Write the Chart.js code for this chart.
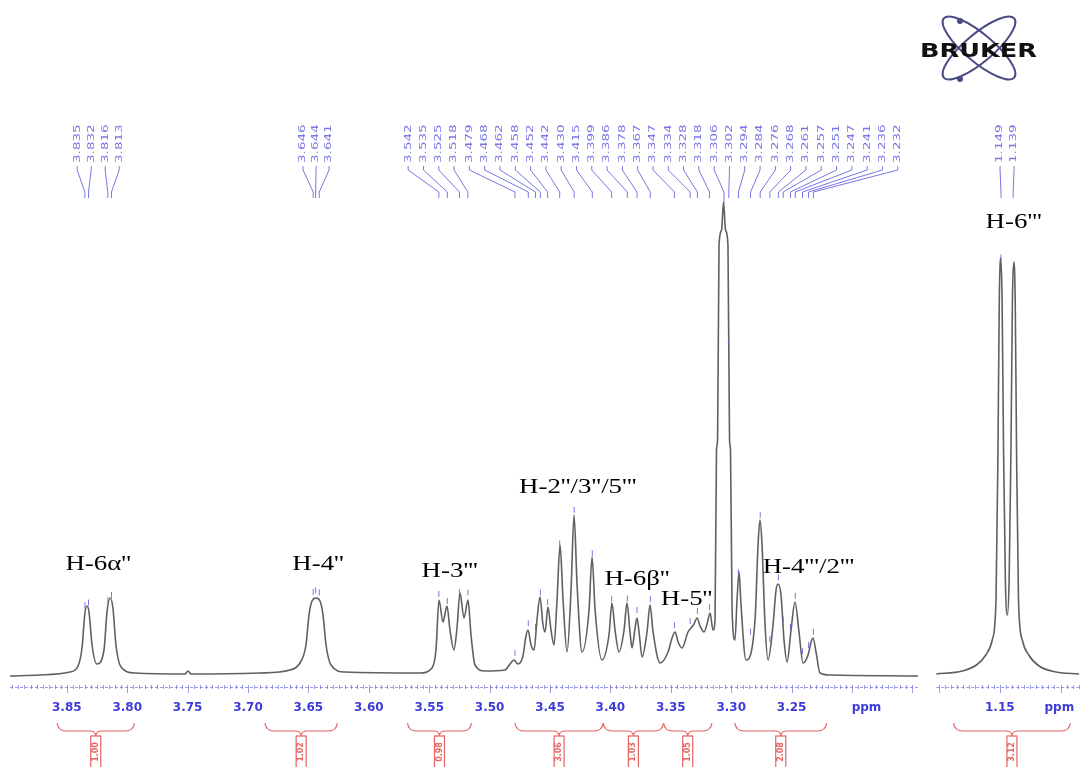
<!DOCTYPE html>
<html>
<head>
<meta charset="utf-8">
<script src="https://cdn.jsdelivr.net/npm/chart.js@4.4.0/dist/chart.umd.min.js"></script>
<style>
  body { margin: 0; background: #fff; }
  #wrap { position: relative; width: 1088px; height: 767px; overflow: hidden; background: #fff; }
  canvas { position: absolute; top: 0; }
  #left { left: 0; }
  #right { left: 925px; }
  #logo { position: absolute; left: 915px; top: 8px; }
</style>
</head>
<body>
<div id="wrap">
  <canvas id="left" width="925" height="767"></canvas>
  <canvas id="right" width="163" height="767"></canvas>
  <svg id="logo" width="130" height="85" viewBox="0 0 130 85">
    <g fill="none" stroke="#4b4b86" stroke-width="2">
      <ellipse cx="64" cy="40" rx="46" ry="14" transform="rotate(40 64 40)"/>
      <ellipse cx="64" cy="40" rx="46" ry="14" transform="rotate(-40 64 40)"/>
    </g>
    <circle cx="45" cy="13" r="3" fill="#4b4b86"/>
    <circle cx="45" cy="71" r="3" fill="#4b4b86"/>
    <text x="5" y="49" font-family="DejaVu Sans" font-weight="bold" font-size="19" fill="#111"
          textLength="117" lengthAdjust="spacingAndGlyphs">BRUKER</text>
  </svg>
</div>
<script>
// 1H trace, sugar region 3.90 - 3.14 ppm (ppm / relative intensity)
const leftPpm = [3.8970, 3.8722, 3.8474, 3.8407, 3.8374, 3.8349, 3.8333, 3.8316, 3.8291, 3.8250,
  3.8192, 3.8167, 3.8142, 3.8118, 3.8093, 3.8051, 3.7935, 3.7522, 3.7497, 3.7472,
  3.6901, 3.6652, 3.6570, 3.6520, 3.6495, 3.6470, 3.6437, 3.6404, 3.6379, 3.6354,
  3.6313, 3.6197, 3.5576, 3.5477, 3.5444, 3.5419, 3.5386, 3.5353, 3.5328, 3.5295,
  3.5270, 3.5245, 3.5212, 3.5179, 3.5154, 3.5121, 3.5038, 3.4873, 3.4831, 3.4798,
  3.4765, 3.4724, 3.4699, 3.4682, 3.4657, 3.4632, 3.4608, 3.4583, 3.4558, 3.4541,
  3.4517, 3.4492, 3.4467, 3.4442, 3.4417, 3.4392, 3.4359, 3.4326, 3.4301, 3.4276,
  3.4235, 3.4177, 3.4152, 3.4127, 3.4070, 3.4012, 3.3987, 3.3962, 3.3929, 3.3887,
  3.3863, 3.3838, 3.3821, 3.3796, 3.3780, 3.3763, 3.3738, 3.3697, 3.3672, 3.3647,
  3.3589, 3.3523, 3.3490, 3.3465, 3.3440, 3.3407, 3.3358, 3.3333, 3.3308, 3.3283,
  3.3258, 3.3225, 3.3200, 3.3175, 3.3151, 3.3134, 3.3122, 3.3113, 3.3101, 3.3080,
  3.3064, 3.3047, 3.3027, 3.3014, 3.3006, 3.2993, 3.2969, 3.2952, 3.2935, 3.2919,
  3.2878, 3.2803, 3.2778, 3.2762, 3.2745, 3.2720, 3.2695, 3.2654, 3.2629, 3.2613,
  3.2588, 3.2563, 3.2538, 3.2505, 3.2472, 3.2439, 3.2406, 3.2364, 3.2339, 3.2323,
  3.2298, 3.2265, 3.2182, 3.1454];
const leftInt = [2.2, 2.4, 3.0, 4.2, 7.8, 15.0, 16.2, 15.0, 8.4, 4.6,
  7.4, 15.0, 17.8, 15.8, 8.4, 4.0, 2.8, 2.6, 3.2, 2.6,
  2.8, 3.4, 4.8, 8.4, 14.4, 17.2, 17.8, 17.2, 14.4, 8.4,
  4.4, 3.0, 2.8, 3.8, 7.4, 17.4, 13.0, 16.2, 11.4, 7.4,
  11.8, 18.8, 13.8, 17.4, 10.4, 4.4, 3.2, 3.4, 4.6, 5.4,
  4.6, 6.2, 10.2, 11.4, 8.4, 7.4, 13.4, 18.0, 12.4, 11.0,
  16.0, 11.4, 8.4, 17.4, 28.4, 17.4, 7.0, 19.4, 34.4, 20.4,
  7.0, 15.4, 26.0, 15.4, 5.4, 10.4, 16.8, 11.4, 7.0, 11.4,
  16.8, 11.0, 7.8, 11.8, 13.8, 11.0, 6.0, 11.0, 16.4, 11.0,
  4.8, 7.0, 9.8, 11.0, 9.0, 7.8, 11.0, 11.8, 12.6, 13.8,
  12.2, 11.0, 12.6, 14.8, 11.4, 13.4, 47.4, 49.4, 88.4, 91.4,
  97.0, 91.4, 88.4, 49.4, 47.4, 15.4, 9.4, 17.4, 23.0, 16.4,
  5.4, 13.4, 28.4, 33.4, 28.4, 12.4, 5.4, 12.4, 19.4, 20.6,
  18.4, 9.4, 5.0, 11.4, 17.0, 11.0, 4.8, 6.4, 9.0, 9.8,
  7.0, 2.8, 2.4, 2.2];

// rhamnose methyl doublet window
const rightPpm = [1.2023, 1.1808, 1.1692, 1.1615, 1.1562, 1.1531, 1.1515, 1.1504, 1.1492, 1.1481,
  1.1469, 1.1454, 1.1438, 1.1423, 1.1408, 1.1396, 1.1385, 1.1373, 1.1362, 1.1346,
  1.1315, 1.1262, 1.1177, 1.1038, 1.0846];
const rightInt = [2.6, 3.2, 4.4, 6.4, 9.4, 17.4, 47.4, 77.4, 85.8, 77.4,
  47.4, 21.4, 14.4, 21.4, 47.4, 77.4, 85.0, 77.4, 47.4, 17.4,
  9.4, 6.4, 4.2, 3.0, 2.6];

// axis labels; the unit sits just past the last numbered tick
const leftTicks = [3.85, 3.80, 3.75, 3.70, 3.65, 3.60, 3.55, 3.50, 3.45, 3.40, 3.35, 3.30, 3.25, 3.188];
const leftTickLabels = ['3.85', '3.80', '3.75', '3.70', '3.65', '3.60', '3.55', '3.50', '3.45', '3.40', '3.35', '3.30', '3.25', 'ppm'];
const rightTicks = [1.20, 1.15, 1.101];
const rightTickLabels = ['', '1.15', 'ppm'];

// picked peaks, one list per label fan
const peaksH6a = [3.835, 3.832, 3.816, 3.813];
const peaksH4 = [3.646, 3.644, 3.641];
const peaksMid = [3.542, 3.535, 3.525, 3.518, 3.479, 3.468, 3.462, 3.458, 3.452, 3.442, 3.430,
  3.415, 3.399, 3.386, 3.378, 3.367, 3.347, 3.334, 3.328, 3.318, 3.306, 3.302, 3.294,
  3.284, 3.276, 3.268, 3.261, 3.257, 3.251, 3.247, 3.241, 3.236, 3.232];
const peaksH6 = [1.149, 1.139];

// integral regions
const leftIntFrom = [3.858, 3.686, 3.568, 3.479, 3.406, 3.356, 3.297];
const leftIntTo = [3.794, 3.626, 3.515, 3.406, 3.356, 3.316, 3.221];
const leftIntVal = ['1.00', '1.02', '0.98', '3.06', '1.03', '1.05', '2.08'];
const rightIntFrom = [1.188];
const rightIntTo = [1.092];
const rightIntVal = ['3.12'];

// assignments (ppm, intensity of label centre)
const leftNotes = ["H-6α''", "H-4''", "H-3'''", "H-2''/3''/5'''", "H-6β''", "H-5''", "H-4'''/2'''"];
const leftNotePpm = [3.824, 3.642, 3.533, 3.427, 3.378, 3.337, 3.236];
const leftNoteInt = [24.6, 24.6, 23.2, 40.0, 21.6, 17.6, 24.0];
const rightNotes = ["H-6'''"];
const rightNotePpm = [1.1385];
const rightNoteInt = [93.0];

const BLUE = '#3c3cd6';
const LABEL_BLUE = 'rgba(95,95,225,0.85)';
const RED = 'rgb(232,98,98)';

function traceAt(ppm, ints, p) {
  for (let i = 1; i < ppm.length; i++) {
    if (ppm[i] <= p) {
      const t = (ppm[i - 1] - p) / (ppm[i - 1] - ppm[i]);
      return ints[i - 1] + t * (ints[i] - ints[i - 1]);
    }
  }
  return ints[ints.length - 1];
}

function decor(spec) {
  return {
    id: 'decor',
    afterDraw(chart) {
      const ctx = chart.ctx;
      const xs = chart.scales.x, ys = chart.scales.y;
      const area = chart.chartArea;
      const base = area.bottom;
      ctx.save();

      // ppm ruler
      ctx.strokeStyle = 'rgba(90,90,215,0.6)';
      ctx.lineWidth = 1;
      ctx.setLineDash([3, 2]);
      ctx.beginPath();
      ctx.moveTo(area.left, base + 0.5);
      ctx.lineTo(area.right, base + 0.5);
      ctx.stroke();
      ctx.setLineDash([]);
      for (let k = Math.ceil(xs.min * 200); k <= Math.floor(xs.max * 200); k++) {
        const x = Math.round(xs.getPixelForValue(k / 200)) + 0.5;
        const major = k % 10 === 0;
        ctx.beginPath();
        ctx.moveTo(x, base - 2);
        ctx.lineTo(x, base + (major ? 6 : 2));
        ctx.stroke();
      }

      // integral brackets
      ctx.strokeStyle = RED;
      ctx.fillStyle = RED;
      ctx.lineWidth = 1.2;
      ctx.font = 'bold 8px "DejaVu Sans"';
      ctx.textAlign = 'center';
      ctx.textBaseline = 'middle';
      const yt = base + 36, ym = base + 44, yb = base + 49;
      spec.intFrom.forEach((from, i) => {
        const x1 = xs.getPixelForValue(from), x2 = xs.getPixelForValue(spec.intTo[i]);
        const xc = (x1 + x2) / 2;
        ctx.beginPath();
        ctx.moveTo(x1, yt);
        ctx.quadraticCurveTo(x1 + 1, ym, x1 + 9, ym);
        ctx.lineTo(xc - 6, ym);
        ctx.quadraticCurveTo(xc, ym, xc, yb);
        ctx.quadraticCurveTo(xc, ym, xc + 6, ym);
        ctx.lineTo(x2 - 9, ym);
        ctx.quadraticCurveTo(x2 - 1, ym, x2, yt);
        ctx.stroke();
        ctx.strokeRect(xc - 5, yb, 10, 40);
        ctx.save();
        ctx.translate(xc, yb + 16);
        ctx.rotate(-Math.PI / 2);
        ctx.fillText(spec.intVal[i], 0, 0);
        ctx.restore();
      });

      // picked-peak labels with leader lines
      ctx.lineWidth = 1;
      ctx.strokeStyle = LABEL_BLUE;
      ctx.fillStyle = LABEL_BLUE;
      ctx.font = '9px "DejaVu Sans"';
      ctx.textAlign = 'left';
      ctx.textBaseline = 'middle';
      const top = area.top;
      spec.fans.forEach(fan => {
        const px = fan.peaks.map(p => xs.getPixelForValue(p));
        const mid = px.reduce((a, b) => a + b, 0) / px.length;
        const n = px.length;
        px.forEach((x, i) => {
          const lx = mid + (i - (n - 1) / 2) * fan.gap;
          ctx.save();
          ctx.translate(lx, top - 24);
          ctx.rotate(-Math.PI / 2);
          ctx.scale(1.5, 1);
          ctx.fillText(fan.peaks[i].toFixed(3), 0, 0);
          ctx.restore();
          ctx.beginPath();
          ctx.moveTo(lx, top - 21);
          ctx.lineTo(lx, top - 17);
          ctx.lineTo(x, top + 5);
          ctx.lineTo(x, top + 11);
          ctx.stroke();
          // marker above the peak top
          const y = ys.getPixelForValue(traceAt(spec.ppm, spec.ints, fan.peaks[i]));
          ctx.beginPath();
          ctx.moveTo(x, y - 11);
          ctx.lineTo(x, y - 5);
          ctx.stroke();
        });
      });

      // assignments
      ctx.fillStyle = '#000';
      ctx.font = '21px "Liberation Serif"';
      ctx.textAlign = 'center';
      ctx.textBaseline = 'middle';
      spec.notes.forEach((t, i) => {
        const x = xs.getPixelForValue(spec.notePpm[i]);
        const y = ys.getPixelForValue(spec.noteInt[i]);
        ctx.save();
        ctx.translate(x, y);
        ctx.scale(1.28, 1);
        ctx.fillText(t, 0, 0);
        ctx.restore();
      });
      ctx.restore();
    }
  };
}

function makeChart(id, ppm, ints, lo, hi, ticks, tickLabels, padL, padR, spec) {
  spec.ppm = ppm;
  spec.ints = ints;
  return new Chart(document.getElementById(id), {
    type: 'line',
    data: {
      datasets: [{
        data: ppm.map((p, i) => ({ x: p, y: ints[i] })),
        borderColor: 'rgb(96,96,96)',
        borderWidth: 1.6,
        pointRadius: 0,
        fill: false,
        cubicInterpolationMode: 'monotone'
      }]
    },
    options: {
      responsive: false,
      animation: false,
      devicePixelRatio: 1,
      layout: { padding: { top: 187, left: padL, right: padR, bottom: 37.6 } },
      plugins: { legend: { display: false }, tooltip: { enabled: false } },
      scales: {
        x: {
          type: 'linear',
          reverse: true,
          min: lo,
          max: hi,
          afterBuildTicks: s => { s.ticks = ticks.map(v => ({ value: v })); },
          ticks: {
            autoSkip: false,
            maxRotation: 0,
            padding: 14,
            color: BLUE,
            font: { family: 'DejaVu Sans', size: 12, weight: 'bold' },
            callback: (v, i) => tickLabels[i]
          },
          grid: { display: false, drawTicks: false },
          border: { display: false }
        },
        y: { display: false, min: 0, max: 100 }
      }
    },
    plugins: [decor(spec)]
  });
}

makeChart('left', leftPpm, leftInt, 3.1454, 3.8970, leftTicks, leftTickLabels, 10, 7, {
  intFrom: leftIntFrom, intTo: leftIntTo, intVal: leftIntVal,
  fans: [{ peaks: peaksH6a, gap: 14 }, { peaks: peaksH4, gap: 13 }, { peaks: peaksMid, gap: 15.3 }],
  notes: leftNotes, notePpm: leftNotePpm, noteInt: leftNoteInt
});

makeChart('right', rightPpm, rightInt, 1.0846, 1.2023, rightTicks, rightTickLabels, 7, 3, {
  intFrom: rightIntFrom, intTo: rightIntTo, intVal: rightIntVal,
  fans: [{ peaks: peaksH6, gap: 14 }],
  notes: rightNotes, notePpm: rightNotePpm, noteInt: rightNoteInt
});
</script>
</body>
</html>
